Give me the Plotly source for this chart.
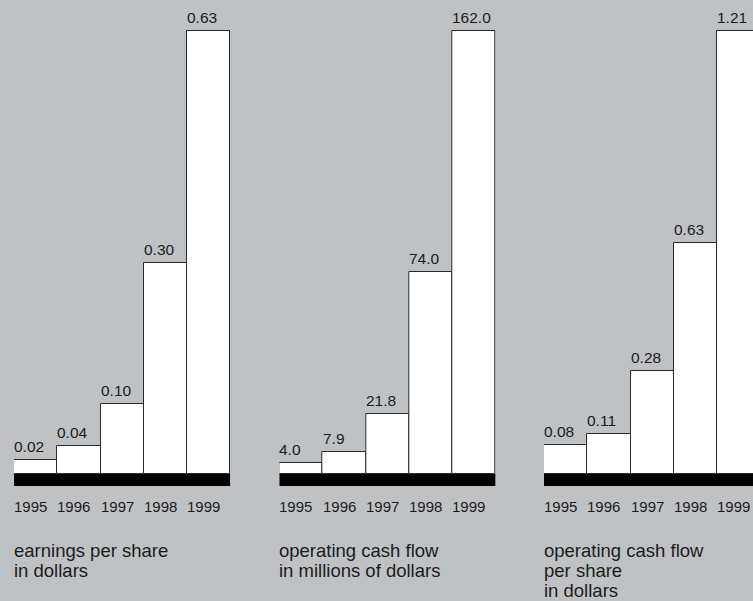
import plotly.graph_objects as go

# --- data -------------------------------------------------------------
years = ["1995", "1996", "1997", "1998", "1999"]
eps = [0.02, 0.04, 0.10, 0.30, 0.63]
ocf = [4.0, 7.9, 21.8, 74.0, 162.0]
ocf_per_share = [0.08, 0.11, 0.28, 0.63, 1.21]
value_formats = ["{:.2f}", "{:.1f}", "{:.2f}"]
captions = [
    ["earnings per share", "in dollars"],
    ["operating cash flow", "in millions of dollars"],
    ["operating cash flow", "per share", "in dollars"],
]

# --- layout geometry (pixels) -----------------------------------------
W, H = 753, 601
BASE_Y = 474          # pixel row of the bars' baseline
TOP_Y = 31            # pixel row reached by the tallest bar
BAND = 12             # thickness of the black base band
BAR_W = 43.26         # pixel width of one year slot
PANEL_LEFT = [14, 279.3, 544]
YEAR_Y = 506          # centre row of the year labels
CAPTION_Y = 550       # centre row of the first caption line
CAPTION_STEP = 20     # caption line spacing

BG = "#BFC2C5"
INK = "#1b1b1b"
FONT = "Liberation Sans, Arial, Helvetica, sans-serif"

series = [eps, ocf, ocf_per_share]

fig = go.Figure()
layout_axes = {}
annotations = []
shapes = []

for k, (vals, fmt, cap, left) in enumerate(zip(series, value_formats, captions, PANEL_LEFT)):
    n = k + 1
    xa = "x" if n == 1 else f"x{n}"
    ya = "y" if n == 1 else f"y{n}"
    right = min(left + BAR_W * len(years), W)
    scale = (BASE_Y - TOP_Y) / max(vals)          # pixels per unit
    yrange = [-(H - BASE_Y) / scale, BASE_Y / scale]
    xrange = [-0.5, -0.5 + (right - left) / BAR_W]

    fig.add_trace(go.Bar(
        x=years, y=vals, xaxis=xa, yaxis=ya,
        marker=dict(color="white", line=dict(color="#2a2a2a", width=1)),
        width=1.0, hoverinfo="skip", showlegend=False,
    ))

    layout_axes[f"xaxis{'' if n == 1 else n}"] = dict(
        domain=[left / W, right / W], range=xrange, type="category",
        visible=False, fixedrange=True, anchor=ya,
    )
    layout_axes[f"yaxis{'' if n == 1 else n}"] = dict(
        domain=[0, 1], range=yrange, visible=False, fixedrange=True, anchor=xa,
    )

    # black base band under the bars
    shapes.append(dict(
        type="rect", xref=xa, yref=ya,
        x0=-0.5, x1=len(years) - 0.5, y0=-BAND / scale, y1=0,
        fillcolor="black", line=dict(width=0), layer="above",
    ))

    for i, (yr, v) in enumerate(zip(years, vals)):
        # value above each bar, flush with the bar's left edge
        annotations.append(dict(
            xref=xa, yref=ya, x=i - 0.5, y=v, xanchor="left", yanchor="bottom",
            text=fmt.format(v), showarrow=False, xshift=-2, yshift=3,
            font=dict(family=FONT, size=15.5, color=INK),
        ))
        # year label under the band
        annotations.append(dict(
            xref=xa, yref="paper", x=i - 0.5, y=1 - YEAR_Y / H,
            xanchor="left", yanchor="middle",
            text=yr, showarrow=False, xshift=-2,
            font=dict(family=FONT, size=15, color=INK),
        ))

    # caption, one annotation per line for tight leading
    for j, line in enumerate(cap):
        annotations.append(dict(
            xref="paper", yref="paper", x=(left - 2) / W,
            y=1 - (CAPTION_Y + j * CAPTION_STEP) / H,
            xanchor="left", yanchor="middle", align="left",
            text=line, showarrow=False,
            font=dict(family=FONT, size=18.5, color=INK),
        ))

fig.update_layout(
    width=W, height=H,
    margin=dict(l=0, r=0, t=0, b=0),
    paper_bgcolor=BG, plot_bgcolor=BG,
    bargap=0, barmode="overlay",
    annotations=annotations, shapes=shapes,
    **layout_axes,
)

fig.write_html("out.html", config={"displayModeBar": False})
